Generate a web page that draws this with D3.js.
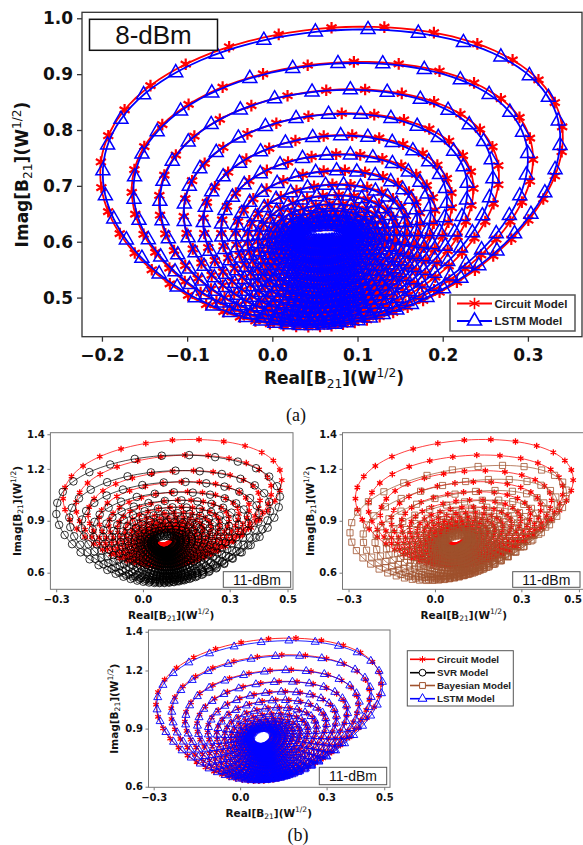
<!DOCTYPE html>
<html>
<head>
<meta charset="utf-8">
<script src="https://cdn.jsdelivr.net/npm/d3@7"></script>
<style>
  body { margin: 0; background: #fff; }
  svg { display: block; }
</style>
</head>
<body>
<svg id="fig" width="583" height="845"></svg>
<script>
'use strict';

// ---- (a) 8-dBm : extents of every loop of the B21 spiral, outer loop first
const aCircuitTop    = [0.985, 0.922, 0.873, 0.830, 0.791, 0.757, 0.728, 0.703, 0.684, 0.668, 0.656, 0.646, 0.639, 0.633, 0.629];
const aCircuitBottom = [0.448, 0.452, 0.457, 0.463, 0.470, 0.478, 0.487, 0.497, 0.508, 0.521, 0.535, 0.550, 0.566, 0.582, 0.597];
const aCircuitLeft   = [-0.202, -0.165, -0.133, -0.104, -0.081, -0.060, -0.043, -0.029, -0.017, -0.006, 0.003, 0.011, 0.018, 0.024, 0.029];
const aCircuitRight  = [0.341, 0.306, 0.266, 0.236, 0.211, 0.191, 0.174, 0.159, 0.146, 0.134, 0.124, 0.115, 0.107, 0.100, 0.094];

const aLstmTop    = [0.980, 0.920, 0.872, 0.829, 0.790, 0.756, 0.727, 0.702, 0.683, 0.667, 0.655, 0.645, 0.638, 0.632, 0.628];
const aLstmBottom = [0.450, 0.454, 0.459, 0.465, 0.472, 0.480, 0.489, 0.499, 0.510, 0.523, 0.537, 0.552, 0.568, 0.584, 0.599];
const aLstmLeft   = [-0.199, -0.163, -0.132, -0.104, -0.081, -0.060, -0.043, -0.029, -0.017, -0.006, 0.003, 0.011, 0.018, 0.024, 0.029];
const aLstmRight  = [0.338, 0.300, 0.259, 0.229, 0.205, 0.186, 0.170, 0.156, 0.143, 0.132, 0.122, 0.113, 0.105, 0.099, 0.093];

// ---- (b) 11-dBm, upper two panels
const bCircuitTop    = [1.370, 1.280, 1.190, 1.126, 1.068, 1.020, 0.980, 0.948, 0.922, 0.900, 0.882, 0.868, 0.856, 0.846];
const bCircuitBottom = [0.635, 0.638, 0.642, 0.647, 0.653, 0.660, 0.668, 0.678, 0.690, 0.704, 0.718, 0.732, 0.746, 0.758];
const bCircuitLeft   = [-0.276, -0.232, -0.190, -0.152, -0.118, -0.088, -0.062, -0.040, -0.021, -0.005, 0.008, 0.019, 0.028, 0.035];
const bCircuitRight  = [0.480, 0.445, 0.405, 0.368, 0.332, 0.298, 0.266, 0.236, 0.208, 0.183, 0.161, 0.142, 0.126, 0.112];

const bSvrTop    = [1.280, 1.190, 1.125, 1.065, 1.018, 0.978, 0.944, 0.915, 0.890, 0.868, 0.850, 0.835, 0.822, 0.812];
const bSvrBottom = [0.540, 0.545, 0.552, 0.560, 0.570, 0.582, 0.596, 0.612, 0.630, 0.650, 0.670, 0.690, 0.708, 0.725];
const bSvrLeft   = [-0.300, -0.255, -0.213, -0.174, -0.138, -0.106, -0.077, -0.052, -0.030, -0.012, 0.004, 0.017, 0.028, 0.036];
const bSvrRight  = [0.474, 0.440, 0.402, 0.366, 0.332, 0.300, 0.270, 0.242, 0.216, 0.192, 0.170, 0.150, 0.132, 0.116];

const bBayesTop    = [1.220, 1.140, 1.075, 1.020, 0.978, 0.945, 0.918, 0.895, 0.875, 0.858, 0.844, 0.832, 0.822, 0.814];
const bBayesBottom = [0.555, 0.560, 0.567, 0.575, 0.585, 0.597, 0.611, 0.627, 0.645, 0.664, 0.684, 0.703, 0.720, 0.735];
const bBayesLeft   = [-0.295, -0.250, -0.208, -0.170, -0.135, -0.104, -0.076, -0.052, -0.031, -0.013, 0.002, 0.014, 0.024, 0.032];
const bBayesRight  = [0.457, 0.425, 0.390, 0.355, 0.322, 0.291, 0.262, 0.235, 0.210, 0.187, 0.166, 0.147, 0.130, 0.115];

// ---- (b) 11-dBm, lower panel
const cCircuitTop    = [1.367, 1.281, 1.204, 1.144, 1.092, 1.049, 1.010, 0.978, 0.952, 0.935, 0.922, 0.912, 0.905, 0.900];
const cCircuitBottom = [0.630, 0.633, 0.637, 0.643, 0.650, 0.660, 0.672, 0.687, 0.704, 0.723, 0.743, 0.763, 0.782, 0.800];
const cCircuitLeft   = [-0.292, -0.240, -0.192, -0.150, -0.113, -0.082, -0.055, -0.033, -0.015, 0.000, 0.012, 0.022, 0.030, 0.036];
const cCircuitRight  = [0.489, 0.450, 0.410, 0.370, 0.333, 0.298, 0.265, 0.235, 0.208, 0.184, 0.163, 0.145, 0.128, 0.114];

const cLstmTop    = [1.354, 1.276, 1.201, 1.142, 1.090, 1.047, 1.008, 0.977, 0.951, 0.934, 0.921, 0.911, 0.904, 0.899];
const cLstmBottom = [0.632, 0.635, 0.639, 0.645, 0.652, 0.662, 0.674, 0.689, 0.706, 0.725, 0.745, 0.765, 0.784, 0.802];
const cLstmLeft   = [-0.289, -0.237, -0.190, -0.148, -0.111, -0.080, -0.053, -0.031, -0.013, 0.002, 0.014, 0.024, 0.031, 0.037];
const cLstmRight  = [0.494, 0.455, 0.414, 0.373, 0.335, 0.300, 0.266, 0.236, 0.209, 0.185, 0.164, 0.146, 0.129, 0.115];

const aXTicks = [-0.2, -0.1, 0.0, 0.1, 0.2, 0.3];
const aYTicks = [0.5, 0.6, 0.7, 0.8, 0.9, 1.0];
const bXTicks = [-0.3, 0.0, 0.3, 0.5];
const bYTicks = [0.6, 0.9, 1.2, 1.4];

const legendA = ['Circuit Model', 'LSTM Model'];
const legendB = ['Circuit Model', 'SVR Model', 'Bayesian Model', 'LSTM Model'];

const RED = '#ff0000', BLUE = '#0000ff', BLACK = '#000000', BROWN = '#a0522d';
const MARKS_PER_LOOP = 48;
const LINE_PTS = 180;
const PAGE_W = 583;

const svg = d3.select('#fig');
const defs = svg.append('defs');
let clipId = 0;

function rings(top, bottom, left, right) {
  return top.map((t, i) => ({ top: t, bottom: bottom[i], left: left[i], right: right[i] }));
}

// widest x of the raw egg shape, used to stretch it onto the loop extents
function eggMax(egg) {
  let m = 0;
  for (let i = 0; i < 3600; i++) {
    const t = i / 3600 * 2 * Math.PI;
    m = Math.max(m, Math.cos(t) * (1 + egg * Math.sin(t)));
  }
  return m;
}

function loopPoint(r, shape, phi) {
  const th = phi - shape.warp * Math.cos(phi);
  const cx = (r.left + r.right) / 2, rx = (r.right - r.left) / 2;
  const cy = (r.top + r.bottom) / 2, ry = (r.top - r.bottom) / 2;
  return [cx + rx * Math.cos(th) * (1 + shape.egg * Math.sin(th)) / shape.m,
          cy + ry * Math.sin(th + shape.tilt)];
}

function symbolPath(kind, size) {
  const types = { star: d3.symbolAsterisk, circle: d3.symbolCircle, square: d3.symbolSquare, triangle: d3.symbolTriangle };
  return d3.symbol().type(types[kind]).size(size)();
}

function drawSeries(g, x, y, s) {
  const shape = { tilt: s.tilt, egg: s.egg, warp: 0.55, m: eggMax(s.egg) };
  const line = d3.line().x(d => x(d[0])).y(d => y(d[1])).curve(d3.curveLinearClosed);
  const lg = g.append('g');
  const mg = g.append('g');
  const sym = symbolPath(s.marker, s.size);
  s.loops.forEach((r, k) => {
    const pts = d3.range(LINE_PTS).map(j => loopPoint(r, shape, 2 * Math.PI * j / LINE_PTS));
    lg.append('path').attr('d', line(pts))
      .attr('fill', 'none').attr('stroke', s.color)
      .attr('stroke-width', s.lineWidth).attr('stroke-opacity', s.lineOpacity);
    const marks = d3.range(MARKS_PER_LOOP).map(j =>
      loopPoint(r, shape, s.phase + k * 0.07 + 2 * Math.PI * j / MARKS_PER_LOOP));
    mg.selectAll(null).data(marks).join('path')
      .attr('d', sym)
      .attr('transform', d => `translate(${x(d[0])},${y(d[1])})`)
      .attr('fill', s.fill)
      .attr('stroke', s.color)
      .attr('stroke-width', s.markStroke);
  });
}

function sciLabel(parent, head, cx, cy, rotate, size) {
  const t = parent.append('text')
    .attr('transform', `translate(${cx},${cy}) rotate(${rotate})`)
    .attr('text-anchor', 'middle')
    .attr('y', size * 0.36)
    .attr('font-family', 'DejaVu Sans')
    .attr('font-weight', 'bold')
    .attr('font-size', size)
    .attr('fill', '#111');
  t.append('tspan').text(head + '[B');
  t.append('tspan').attr('font-size', size * 0.72).attr('font-weight', 'normal').attr('dy', size * 0.22).text('21');
  t.append('tspan').attr('dy', -size * 0.22).text('](W');
  t.append('tspan').attr('font-size', size * 0.72).attr('font-weight', 'normal').attr('dy', -size * 0.42).text('1/2');
  t.append('tspan').attr('dy', size * 0.42).text(')');
}

function drawPanel(p) {
  const x = d3.scaleLinear().domain(p.xDom).range([p.x0, p.x1]);
  const y = d3.scaleLinear().domain(p.yDom).range([p.y1, p.y0]);
  const id = 'clip' + (clipId++);
  defs.append('clipPath').attr('id', id).append('rect')
    .attr('x', p.x0).attr('y', p.y0).attr('width', p.x1 - p.x0).attr('height', p.y1 - p.y0);

  const plot = svg.append('g').attr('clip-path', `url(#${id})`);
  p.series.forEach(s => drawSeries(plot, x, y, s));

  svg.append('rect')
    .attr('x', p.x0).attr('y', p.y0).attr('width', p.x1 - p.x0).attr('height', p.y1 - p.y0)
    .attr('fill', 'none').attr('stroke', p.frame).attr('stroke-width', p.frameWidth);

  const xAxis = svg.append('g').attr('transform', `translate(0,${p.y1})`)
    .call(d3.axisBottom(x).tickValues(p.xTicks).tickFormat(d3.format('.1f'))
      .tickSize(p.tickLen).tickPadding(p.xPad));
  const yAxis = svg.append('g').attr('transform', `translate(${p.x0},0)`)
    .call(d3.axisLeft(y).tickValues(p.yTicks).tickFormat(d3.format('.1f'))
      .tickSize(p.tickLen).tickPadding(p.yPad));
  [xAxis, yAxis].forEach(a => {
    a.select('.domain').remove();
    a.selectAll('line').attr('stroke', p.frame).attr('stroke-width', p.frameWidth);
    a.selectAll('text').attr('font-family', 'DejaVu Sans').attr('font-weight', 'bold')
      .attr('font-size', p.tickFont).attr('fill', '#111');
  });
  // a tick label running past the page edge is pulled back inside it
  xAxis.selectAll('.tick').each(function () {
    const tick = d3.select(this);
    const bb = this.getBBox();
    const tx = +tick.attr('transform').match(/translate\(([-\d.]+)/)[1];
    const over = tx + bb.x + bb.width - (PAGE_W - 1);
    if (over > 0) tick.select('text').attr('x', -over);
  });

  sciLabel(svg, 'Real', (p.x0 + p.x1) / 2 + p.xLabelShift, p.xLabelY, 0, p.labelFont);
  sciLabel(svg, 'Imag', p.yLabelX, (p.y0 + p.y1) / 2, -90, p.labelFont);

  const b = p.tag;
  svg.append('rect').attr('x', b.x).attr('y', b.y).attr('width', b.w).attr('height', b.h)
    .attr('fill', '#fff').attr('stroke', b.stroke).attr('stroke-width', b.sw);
  svg.append('text').attr('x', b.x + b.w / 2).attr('y', b.y + b.h / 2 + b.font * 0.36)
    .attr('text-anchor', 'middle').attr('font-family', 'Liberation Sans').attr('font-size', b.font)
    .attr('fill', '#111').text(b.text);
}

function drawLegend(box, names, styles) {
  svg.append('rect').attr('x', box.x).attr('y', box.y).attr('width', box.w).attr('height', box.h)
    .attr('fill', '#fff').attr('stroke', '#555').attr('stroke-width', box.sw);
  names.forEach((name, i) => {
    const s = styles[i];
    const cy = box.rowY[i];
    svg.append('line').attr('x1', box.lx0).attr('x2', box.lx1).attr('y1', cy).attr('y2', cy)
      .attr('stroke', s.color).attr('stroke-width', box.lw);
    svg.append('path').attr('d', symbolPath(s.marker, box.symSize[s.marker]))
      .attr('transform', `translate(${(box.lx0 + box.lx1) / 2},${cy})`)
      .attr('fill', s.marker === 'star' ? s.color : '#fff').attr('stroke', s.color).attr('stroke-width', box.ms);
    svg.append('text').attr('x', box.tx).attr('y', cy + box.font * 0.36)
      .attr('font-family', 'Liberation Sans').attr('font-weight', 'bold').attr('font-size', box.font)
      .attr('fill', '#222').text(name);
  });
}

// ---- series styles
const aShape = { tilt: 0.12, egg: 0.15 };
const bShape = { tilt: 0.15, egg: 0.25 };

const aCircuit = Object.assign({ loops: rings(aCircuitTop, aCircuitBottom, aCircuitLeft, aCircuitRight),
  color: RED, marker: 'star', size: 95, fill: 'none', markStroke: 2.2, lineWidth: 1.8, lineOpacity: 1, phase: 0 }, aShape);
const aLstm = Object.assign({ loops: rings(aLstmTop, aLstmBottom, aLstmLeft, aLstmRight),
  color: BLUE, marker: 'triangle', size: 85, fill: 'none', markStroke: 1.5, lineWidth: 1.8, lineOpacity: 1, phase: 0.04 }, aShape);

const bCircuit = Object.assign({ loops: rings(bCircuitTop, bCircuitBottom, bCircuitLeft, bCircuitRight),
  color: RED, marker: 'star', size: 28, fill: 'none', markStroke: 1.3, lineWidth: 1, lineOpacity: 0.75, phase: 0 }, bShape);
const bSvr = { loops: rings(bSvrTop, bSvrBottom, bSvrLeft, bSvrRight), tilt: 0.1, egg: 0.25,
  color: BLACK, marker: 'circle', size: 45, fill: 'none', markStroke: 0.8, lineWidth: 0.9, lineOpacity: 0.8, phase: 0.03 };
const bBayes = { loops: rings(bBayesTop, bBayesBottom, bBayesLeft, bBayesRight), tilt: 0.35, egg: 0.2,
  color: BROWN, marker: 'square', size: 38, fill: 'none', markStroke: 0.8, lineWidth: 0.9, lineOpacity: 0.8, phase: 0.03 };
const cCircuit = Object.assign({ loops: rings(cCircuitTop, cCircuitBottom, cCircuitLeft, cCircuitRight),
  color: RED, marker: 'star', size: 28, fill: 'none', markStroke: 1.3, lineWidth: 1, lineOpacity: 0.85, phase: 0 }, bShape);
const cLstm = Object.assign({ loops: rings(cLstmTop, cLstmBottom, cLstmLeft, cLstmRight),
  color: BLUE, marker: 'triangle', size: 28, fill: 'none', markStroke: 0.9, lineWidth: 1, lineOpacity: 0.85, phase: 0.04 }, bShape);

// ---- panel (a)
drawPanel({
  x0: 82, x1: 582, y0: 12.3, y1: 336.7, xDom: [-0.2234, 0.3635], yDom: [0.430, 1.0107],
  xTicks: aXTicks, yTicks: aYTicks, tickLen: 5, xPad: 7, yPad: 4, tickFont: 17, labelFont: 17,
  xLabelY: 378, xLabelShift: 2, yLabelX: 22, frame: '#333', frameWidth: 1.3,
  series: [aCircuit, aLstm],
  tag: { x: 89.5, y: 19.3, w: 128, h: 31, text: '8-dBm', font: 26, stroke: '#111', sw: 1.5 }
});
drawLegend({ x: 450, y: 295, w: 125, h: 36, sw: 1.5, rowY: [303.5, 321], lx0: 457, lx1: 492, tx: 494.5,
  font: 11.5, lw: 2, ms: 1.6, symSize: { star: 95, triangle: 85 } },
  legendA, [aCircuit, aLstm]);

svg.append('text').attr('x', 296).attr('y', 421).attr('text-anchor', 'middle')
  .attr('font-family', 'Liberation Serif').attr('font-size', 18).attr('fill', '#111').text('(a)');

// ---- panel (b)
const bCommon = { tickLen: 3, xPad: 4, yPad: 2.6, tickFont: 10, labelFont: 10.5, frame: '#777', frameWidth: 1,
  xTicks: bXTicks, yTicks: bYTicks };

drawPanel(Object.assign({}, bCommon, {
  x0: 50.4, x1: 293, y0: 432.7, y1: 589.3, xDom: [-0.320, 0.519], yDom: [0.504, 1.409],
  xLabelY: 615, xLabelShift: -0.5, yLabelX: 17, series: [bCircuit, bSvr],
  tag: { x: 223.3, y: 571.7, w: 67.4, h: 15.6, text: '11-dBm', font: 14, stroke: '#555', sw: 1 }
}));
drawPanel(Object.assign({}, bCommon, {
  x0: 342.5, x1: 585, y0: 432.7, y1: 589.3, xDom: [-0.321, 0.521], yDom: [0.504, 1.409],
  xLabelY: 615, xLabelShift: 0, yLabelX: 310, series: [bCircuit, bBayes],
  tag: { x: 512.7, y: 571.7, w: 67.3, h: 15.6, text: '11-dBm', font: 14, stroke: '#555', sw: 1 }
}));
drawPanel(Object.assign({}, bCommon, {
  x0: 148.5, x1: 390, y0: 630, y1: 787.3, xDom: [-0.318, 0.520], yDom: [0.597, 1.409],
  xLabelY: 813, xLabelShift: -0.5, yLabelX: 114, series: [cCircuit, cLstm],
  tag: { x: 319.3, y: 767.3, w: 67.4, h: 17.4, text: '11-dBm', font: 14, stroke: '#555', sw: 1 }
}));
drawLegend({ x: 407.3, y: 650.7, w: 106, h: 55.3, sw: 1, rowY: [659.3, 672.7, 685.5, 698.7], lx0: 410, lx1: 435, tx: 437,
  font: 9.8, lw: 1.6, ms: 1, symSize: { star: 30, circle: 36, square: 34, triangle: 34 } },
  legendB, [bCircuit, bSvr, bBayes, cLstm]);

svg.append('text').attr('x', 298).attr('y', 841).attr('text-anchor', 'middle')
  .attr('font-family', 'Liberation Serif').attr('font-size', 18).attr('fill', '#111').text('(b)');
</script>
</body>
</html>
